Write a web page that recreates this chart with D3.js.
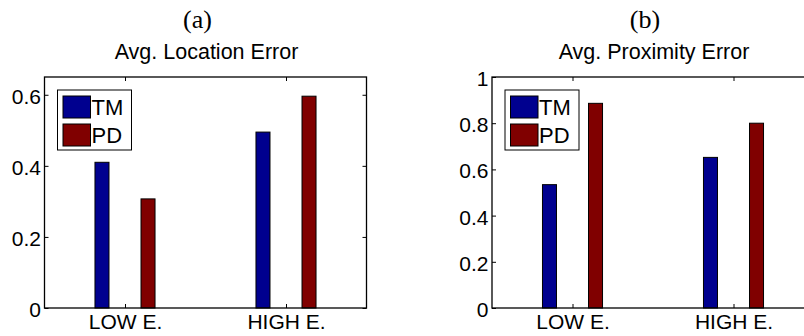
<!DOCTYPE html>
<html>
<head>
<meta charset="utf-8">
<script src="https://cdn.jsdelivr.net/npm/d3@7"></script>
<style>
  body { margin: 0; background: #fff; }
  svg { display: block; }
  .tick text { font-family: "Liberation Sans", Arial, Helvetica, sans-serif; font-size: 21px; fill: #000; }
  .tick line { stroke: #000; }
</style>
</head>
<body>
<svg id="chart" width="804" height="336"></svg>
<script>
// data
const groups = ["LOW E.", "HIGH E."];
const series = ["TM", "PD"];
const colors = ["#00008f", "#800000"];

const locTM = [0.41, 0.495];
const locPD = [0.307, 0.596];
const proxTM = [0.534, 0.652];
const proxPD = [0.886, 0.80];

const locTicks = [0, 0.2, 0.4, 0.6];
const proxTicks = [0, 0.2, 0.4, 0.6, 0.8, 1];

const svg = d3.select("#chart");
const W = 322, H = 231, axTop = 77;
const font = '"Liberation Sans", Arial, Helvetica, sans-serif';

function panel(left, letter, title, tm, pd, ymax, ticks) {
    const g = svg.append("g").attr("transform", `translate(${left},${axTop})`);

    const x = d3.scaleLinear().domain([0.5, 2.5]).range([0, W]);
    const y = d3.scaleLinear().domain([0, ymax]).range([H, 0]);

    const offset = 0.143, barW = 0.087;
    const vals = [tm, pd];

    // bars
    vals.forEach((v, s) => {
        g.selectAll(".bar" + s)
            .data(v)
            .enter()
            .append("rect")
            .attr("x", (d, i) => x(i + 1 + (s === 0 ? -offset : offset) - barW / 2))
            .attr("width", x(barW) - x(0))
            .attr("y", d => y(d))
            .attr("height", d => H - y(d))
            .attr("fill", colors[s])
            .attr("stroke", "#000")
            .attr("stroke-width", 1);
    });

    // axes, ticks inward like matlab
    const yl = g.append("g")
        .call(d3.axisLeft(y).tickValues(ticks).tickSize(-4).tickPadding(3.5).tickFormat(d => String(d)));
    yl.selectAll(".tick text").attr("dy", "0.4em");
    g.append("g").attr("transform", `translate(${W},0)`)
        .call(d3.axisRight(y).tickValues(ticks).tickSize(-4).tickFormat(""));
    g.append("g").attr("transform", `translate(0,${H})`)
        .call(d3.axisBottom(x).tickValues([1, 2]).tickSize(-4).tickPadding(6).tickFormat((d, i) => groups[i]));
    g.append("g")
        .call(d3.axisTop(x).tickValues([1, 2]).tickSize(-4).tickFormat(""));
    g.selectAll(".domain").remove();

    g.append("rect")
        .attr("width", W).attr("height", H)
        .attr("fill", "none").attr("stroke", "#000").attr("stroke-width", 1.3);

    // legend
    const lg = g.append("g").attr("transform", "translate(13,13)");
    lg.append("rect")
        .attr("width", 74).attr("height", 60)
        .attr("fill", "#fff").attr("stroke", "#000");
    series.forEach((name, s) => {
        lg.append("rect")
            .attr("x", 5.5).attr("y", 6 + s * 28)
            .attr("width", 27.5).attr("height", 22)
            .attr("fill", colors[s]).attr("stroke", "#000");
        lg.append("text")
            .attr("x", 34).attr("y", 25 + s * 28)
            .attr("font-family", font).attr("font-size", 22)
            .text(name);
    });

    // titles
    svg.append("text")
        .attr("x", left + W / 2 + 1).attr("y", 59)
        .attr("text-anchor", "middle")
        .attr("font-family", font).attr("font-size", 21.5)
        .text(title);
    svg.append("text")
        .attr("x", left + W / 2 - 8).attr("y", 28)
        .attr("text-anchor", "middle")
        .attr("font-family", '"Liberation Serif", "Times New Roman", serif').attr("font-size", 26)
        .text(letter);
}

panel(44.5, "(a)", "Avg. Location Error", locTM, locPD, 0.65, locTicks);
panel(492, "(b)", "Avg. Proximity Error", proxTM, proxPD, 1, proxTicks);
</script>
</body>
</html>
